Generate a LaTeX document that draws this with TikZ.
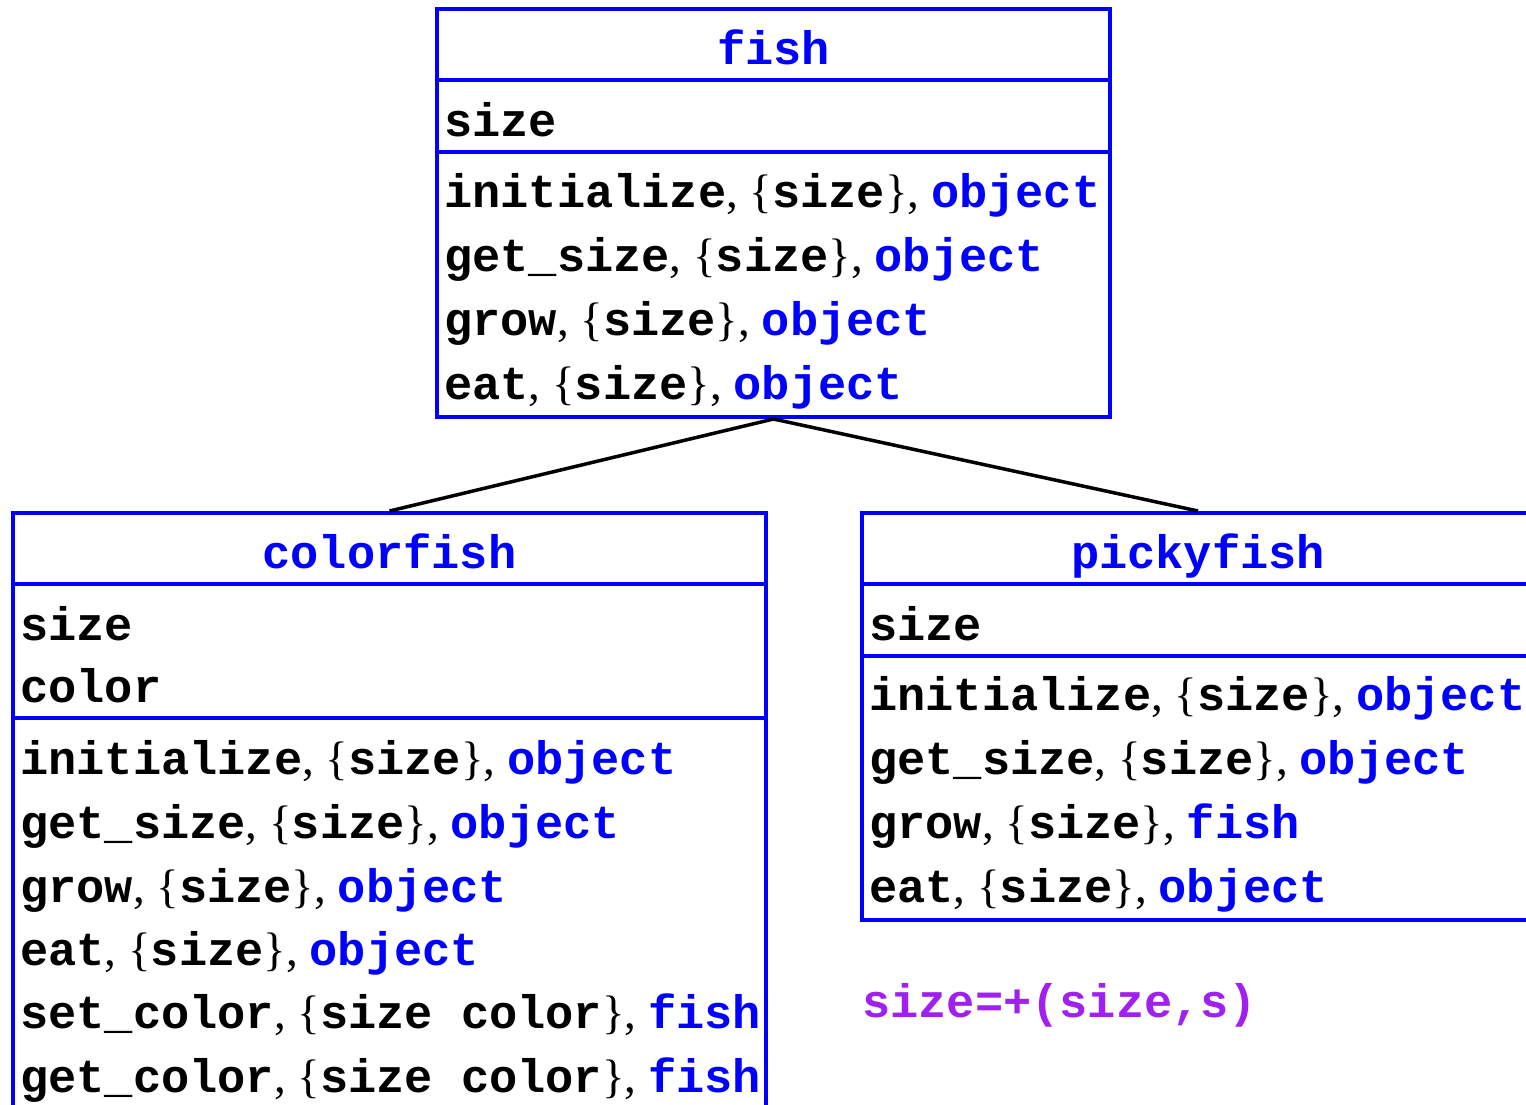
\documentclass[tikz,border=0pt]{standalone}
\usepackage{fontspec}
\setmainfont{Liberation Serif}
\setmonofont{Liberation Mono}
\definecolor{clsblue}{RGB}{0,0,255}
\definecolor{notepurple}{RGB}{160,32,240}
\newcommand{\fmeth}[3]{#1{\rmfamily\mdseries, \{}#2{\rmfamily\mdseries\}, }\textcolor{clsblue}{#3}}
\tikzset{
  classbox/.style={draw=clsblue, line width=4pt, inner sep=0pt, anchor=north west},
  sepline/.style={draw=clsblue, line width=4pt},
  clsname/.style={text=clsblue, font=\ttfamily\bfseries\fontsize{47}{64}\selectfont, anchor=base, inner sep=0pt},
  member/.style={font=\ttfamily\bfseries\fontsize{47}{64}\selectfont, anchor=base west, inner sep=0pt},
  inherit/.style={line width=3.5pt}
}
\begin{document}
\begin{tikzpicture}[x=1pt,y=-1pt]

\useasboundingbox (0,0) rectangle (1526,1104);
\clip (0,0) rectangle (1526,1104);
  % boxes
  \node[classbox, minimum width=673pt, minimum height=408pt] (fish) at (435,7) {};
  \node[classbox, minimum width=753pt, minimum height=600pt] (colorfish) at (11,511) {};
  \node[classbox, minimum width=672pt, minimum height=407pt] (pickyfish) at (860,511) {};
  \draw[sepline] ([yshift=-73pt]fish.north west) -- ([yshift=-73pt]fish.north east);
  \draw[sepline] ([yshift=-145pt]fish.north west) -- ([yshift=-145pt]fish.north east);
  \draw[sepline] ([yshift=-73pt]colorfish.north west) -- ([yshift=-73pt]colorfish.north east);
  \draw[sepline] ([yshift=-207pt]colorfish.north west) -- ([yshift=-207pt]colorfish.north east);
  \draw[sepline] ([yshift=-73pt]pickyfish.north west) -- ([yshift=-73pt]pickyfish.north east);
  \draw[sepline] ([yshift=-145pt]pickyfish.north west) -- ([yshift=-145pt]pickyfish.north east);
  % fish
  \node[clsname] (n0) at ([yshift=-57pt]fish.north) {fish};
  \node[member] (n1) at (444,136) {size};
  \node[member] (n2) at (444,207) {\fmeth{initialize}{size}{object}};
  \node[member] (n3) at (444,271) {\fmeth{get\_size}{size}{object}};
  \node[member] (n4) at (444,335) {\fmeth{grow}{size}{object}};
  \node[member] (n5) at (444,399) {\fmeth{eat}{size}{object}};
  % colorfish
  \node[clsname] (c0) at ([yshift=-57pt]colorfish.north) {colorfish};
  \node[member] (c1) at (20,640) {size};
  \node[member] (c2) at (20,702) {color};
  \node[member] (c3) at (20,774) {\fmeth{initialize}{size}{object}};
  \node[member] (c4) at (20,838) {\fmeth{get\_size}{size}{object}};
  \node[member] (c5) at (20,902) {\fmeth{grow}{size}{object}};
  \node[member] (c6) at (20,965) {\fmeth{eat}{size}{object}};
  \node[member] (c7) at (20,1028) {\fmeth{set\_color}{size color}{fish}};
  \node[member] (c8) at (20,1092) {\fmeth{get\_color}{size color}{fish}};
  % pickyfish
  \node[clsname] (p0) at ([yshift=-57pt]pickyfish.north) {pickyfish};
  \node[member] (p1) at (869,640) {size};
  \node[member] (p2) at (869,710) {\fmeth{initialize}{size}{object}};
  \node[member] (p3) at (869,774) {\fmeth{get\_size}{size}{object}};
  \node[member] (p4) at (869,838) {\fmeth{grow}{size}{fish}};
  \node[member] (p5) at (869,902) {\fmeth{eat}{size}{object}};
  % note
  \node[member, text=notepurple] (note) at (862,1017) {size=+(size,s)};
  % inheritance
  \draw[inherit] (fish.south) -- (colorfish.north);
  \draw[inherit] (fish.south) -- (pickyfish.north);
 \end{tikzpicture}
\end{document}
